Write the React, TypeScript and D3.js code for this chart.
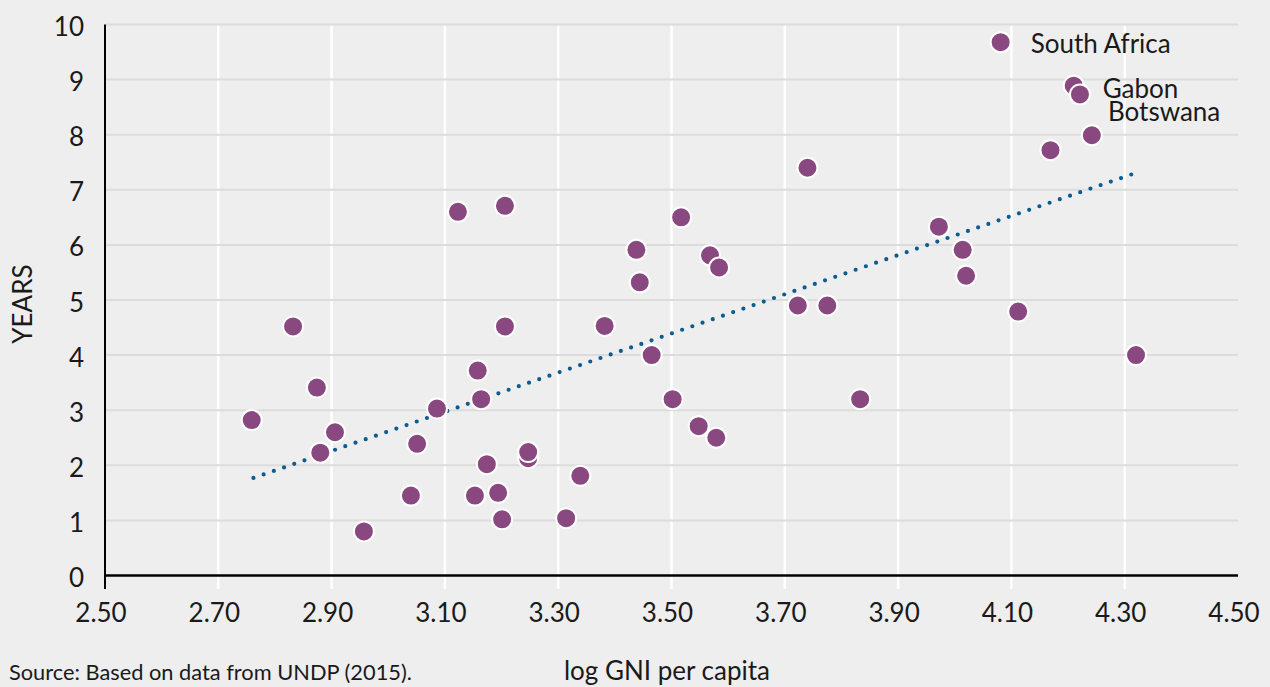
import React from "react";
import * as d3 from "d3";

const gniLog = [2.759, 2.832, 2.874, 2.880, 2.906, 2.957, 3.040, 3.051, 3.086, 3.123, 3.153, 3.158, 3.164, 3.174, 3.194, 3.201, 3.206, 3.206, 3.247, 3.247, 3.314, 3.339, 3.382, 3.438, 3.444, 3.465, 3.502, 3.517, 3.548, 3.568, 3.579, 3.584, 3.723, 3.740, 3.775, 3.833, 3.972, 4.014, 4.020, 4.081, 4.112, 4.169, 4.210, 4.221, 4.242, 4.320];
const years = [2.82, 4.52, 3.41, 2.23, 2.60, 0.80, 1.45, 2.39, 3.03, 6.60, 1.45, 3.72, 3.20, 2.02, 1.50, 1.02, 6.71, 4.52, 2.13, 2.24, 1.04, 1.81, 4.53, 5.91, 5.32, 4.00, 3.20, 6.50, 2.71, 5.81, 2.50, 5.59, 4.90, 7.40, 4.90, 3.20, 6.33, 5.91, 5.44, 9.68, 4.79, 7.72, 8.89, 8.73, 7.99, 4.00];
const labelNames = ["South Africa", "Gabon", "Botswana"];
const labelIndex = [39, 42, 43];
const trendX = [2.762, 4.315];
const trendY = [1.77, 7.29];
const xTicks = [2.5, 2.7, 2.9, 3.1, 3.3, 3.5, 3.7, 3.9, 4.1, 4.3, 4.5];
const yTicks = [0, 1, 2, 3, 4, 5, 6, 7, 8, 9, 10];

const FONT = "Lato, 'Open Sans', sans-serif";

export default function App() {
  const W = 1270, H = 687;
  const x = d3.scaleLinear().domain([2.5, 4.5]).range([105, 1238]);
  const y = d3.scaleLinear().domain([0, 10]).range([575.5, 24.5]);
  const line = d3.line<number>().x((d, i) => x(trendX[i])).y((d, i) => y(trendY[i]));
  const labelOffsets = [[30, 1], [29, 2], [28, 17]];
  return (
    <svg width={W} height={H} style={{ position: "absolute", left: 0, top: 0, display: "block" }} fontFamily={FONT}>
      <rect x={0} y={0} width={W} height={H} fill="#eeeeee" />
      {xTicks.filter(t => t > 2.5 && t < 4.5).map(t => (
        <line key={"vx" + t} x1={x(t)} x2={x(t)} y1={y(10)} y2={589} stroke="#ffffff" strokeWidth={2.5} />
      ))}
      {yTicks.filter(t => t > 0).map(t => (
        <line key={"hy" + t} x1={x(2.5)} x2={x(4.5)} y1={y(t)} y2={y(t)} stroke="#dcdcdc" strokeWidth={2} />
      ))}
      <line x1={x(2.5)} x2={x(2.5)} y1={y(10)} y2={589} stroke="#000" strokeWidth={2} />
      <line x1={x(2.5)} x2={x(4.5)} y1={y(0)} y2={y(0)} stroke="#000" strokeWidth={2.5} />
      {yTicks.map(t => (
        <text key={"yl" + t} x={84} y={y(t) + 1.5} textAnchor="end" dominantBaseline="central" fontSize={26} fill="#1a1a1a">{t}</text>
      ))}
      {xTicks.map(t => (
        <text key={"xl" + t} x={x(t) - 4} y={622} textAnchor="middle" fontSize={26} fill="#1a1a1a">{t.toFixed(2)}</text>
      ))}
      <path d={line(trendX) || ""} fill="none" stroke="#0b5c91" strokeWidth={4.2} strokeLinecap="round" strokeDasharray="0 10.8" />
      {gniLog.map((g, i) => (
        <circle key={"c" + i} cx={x(g)} cy={y(years[i])} r={10} fill="#8a4880" stroke="#ffffff" strokeWidth={2} />
      ))}
      {labelIndex.map((idx, k) => (
        <text key={"lb" + k} x={x(gniLog[idx]) + labelOffsets[k][0]} y={y(years[idx]) + labelOffsets[k][1]} dominantBaseline="central" fontSize={26} fill="#1a1a1a">{labelNames[k]}</text>
      ))}
      <text transform={`translate(32,304) rotate(-90)`} textAnchor="middle" fontSize={26} fill="#1a1a1a">YEARS</text>
      <text x={667} y={680} textAnchor="middle" fontSize={26} fill="#1a1a1a">log GNI per capita</text>
      <text x={9} y={680} fontSize={21.8} fill="#1a1a1a">Source: Based on data from UNDP (2015).</text>
    </svg>
  );
}
